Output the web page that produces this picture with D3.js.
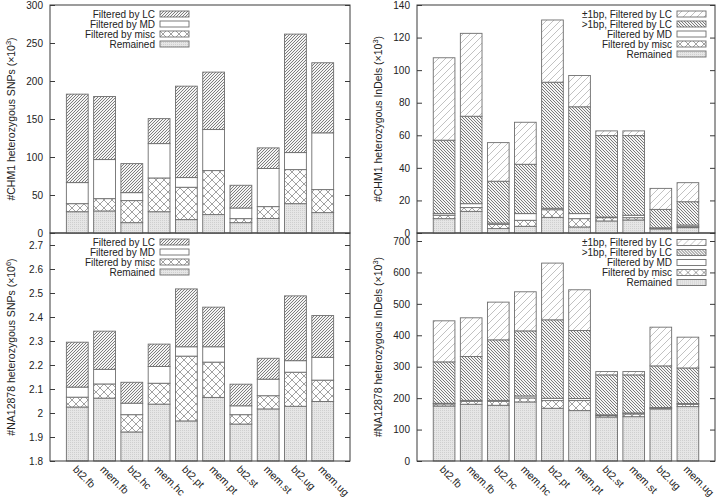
<!DOCTYPE html>
<html>
<head>
<meta charset="utf-8">
<script src="https://cdn.jsdelivr.net/npm/d3@7"></script>
<style>
  body { margin: 0; background: #fff; }
  svg { display: block; font-family: "Liberation Sans", Arial, sans-serif; }
</style>
</head>
<body>
<svg id="chart" width="720" height="498"></svg>
<script>

const categories = ['bt2.fb', 'mem.fb', 'bt2.hc', 'mem.hc', 'bt2.pt',
                    'mem.pt', 'bt2.st', 'mem.st', 'bt2.ug', 'mem.ug'];

// CHM1 heterozygous SNPs (x10^3)
const chm1SnpRemained = [28, 29, 13.6, 28, 17.6, 24.2, 13.6, 19, 38.6, 26.8];
const chm1SnpMisc = [10.6, 16.2, 29, 44.4, 42.6, 57.9, 5.3, 15.7, 44.8, 30.3];
const chm1SnpMD = [27.7, 51.4, 10.5, 45.2, 12.7, 54, 14, 50.1, 22.4, 74.7];
const chm1SnpLC = [116.4, 83, 38.2, 32.9, 120.3, 75.6, 29.9, 27.2, 155.9, 92.2];

// CHM1 heterozygous InDels (x10^3)
const chm1IndelRemained = [8.8, 13.3, 2.7, 4.1, 9.6, 3.7, 7.4, 8, 2.5, 3.3];
const chm1IndelMisc = [2.1, 2.3, 2.6, 3.7, 4.7, 5.1, 2, 1.4, 0.3, 0.6];
const chm1IndelMD = [1, 2.4, 0.8, 4.1, 0.9, 3.1, 0.4, 1.5, 0.4, 1];
const chm1IndelGt1 = [45.1, 53.7, 25.7, 30.3, 77.4, 65.6, 50, 48.9, 11.3, 14.3];
const chm1IndelPm1 = [50.6, 50.9, 23.7, 25.8, 38.2, 19.2, 2.9, 2.9, 12.9, 11.7];

// NA12878 heterozygous SNPs (x10^6)
const naSnpRemained = [2.025, 2.062, 1.921, 2.037, 1.967, 2.065, 1.954, 2.017, 2.028, 2.048];
const naSnpMisc = [0.041, 0.059, 0.072, 0.087, 0.270, 0.147, 0.039, 0.055, 0.142, 0.089];
const naSnpMD = [0.042, 0.061, 0.048, 0.070, 0.039, 0.064, 0.037, 0.069, 0.048, 0.095];
const naSnpLC = [0.187, 0.159, 0.087, 0.093, 0.241, 0.165, 0.090, 0.087, 0.270, 0.174];

// NA12878 heterozygous InDels (x10^3)
const naIndelRemained = [175, 180.5, 177.3, 188, 167.8, 160.3, 140, 141, 165.7, 173];
const naIndelMisc = [6.6, 9.5, 12.7, 12.7, 24.4, 31.9, 4.4, 8.7, 2.1, 7.5];
const naIndelMD = [2.1, 3, 3, 6.3, 7.4, 6.4, 2.5, 3.3, 2.2, 2.1];
const naIndelGt1 = [131.7, 139.4, 192.5, 207, 249.6, 216.6, 127.1, 121, 132.6, 113.4];
const naIndelPm1 = [130.6, 123.2, 120, 124.4, 180.5, 129.6, 10.5, 10.5, 123.2, 98];

const keyLabels = {
  remained: 'Remained',
  misc: 'Filtered by misc',
  md: 'Filtered by MD',
  lc: 'Filtered by LC',
  gt1: '>1bp, Filtered by LC',
  pm1: '\u00b11bp, Filtered by LC'
};

const textColor = '#222';
const frameColor = '#3a3a3a';
const barStroke = '#6e6e6e';


function makeTable(keys, arrays) {
  return categories.map((c, i) => {
    const row = {category: c};
    keys.forEach((k, j) => { row[k] = arrays[j][i]; });
    return row;
  });
}


const panels = [
  {
    left: 50, right: 350, top: 5, bottom: 233,
    domain: [0, 300], rangeTop: 5, step: 50,
    keys: ['remained', 'misc', 'md', 'lc'],
    table: makeTable(['remained', 'misc', 'md', 'lc'],
      [chm1SnpRemained, chm1SnpMisc, chm1SnpMD, chm1SnpLC]),
    title: ['#CHM1 heterozygous SNPs (\u00d710', '3', ')'],
    legendX: 155, legendY: 14, xLabels: false
  },
  {
    left: 417, right: 715, top: 5, bottom: 233,
    domain: [0, 140], rangeTop: 5, step: 20,
    keys: ['remained', 'misc', 'md', 'gt1', 'pm1'],
    table: makeTable(['remained', 'misc', 'md', 'gt1', 'pm1'],
      [chm1IndelRemained, chm1IndelMisc, chm1IndelMD, chm1IndelGt1, chm1IndelPm1]),
    title: ['#CHM1 heterozygous InDels (\u00d710', '3', ')'],
    legendX: 672, legendY: 14, xLabels: false
  },
  {
    left: 50, right: 350, top: 233, bottom: 461,
    domain: [1.8, 2.7], rangeTop: 245, step: 0.1,
    keys: ['remained', 'misc', 'md', 'lc'],
    table: makeTable(['remained', 'misc', 'md', 'lc'],
      [naSnpRemained, naSnpMisc, naSnpMD, naSnpLC]),
    title: ['#NA12878 heterozygous SNPs (\u00d710', '6', ')'],
    legendX: 155, legendY: 242, xLabels: true
  },
  {
    left: 417, right: 715, top: 233, bottom: 461,
    domain: [0, 700], rangeTop: 241, step: 100,
    keys: ['remained', 'misc', 'md', 'gt1', 'pm1'],
    table: makeTable(['remained', 'misc', 'md', 'gt1', 'pm1'],
      [naIndelRemained, naIndelMisc, naIndelMD, naIndelGt1, naIndelPm1]),
    title: ['#NA12878 heterozygous InDels (\u00d710', '3', ')'],
    legendX: 672, legendY: 242.5, xLabels: true
  }
];


function hatch(defs, id, size, dir, color, width, base) {
  const p = defs.append('pattern')
      .attr('id', id)
      .attr('patternUnits', 'userSpaceOnUse')
      .attr('width', size)
      .attr('height', size);
  p.append('rect')
      .attr('width', size)
      .attr('height', size)
      .attr('fill', base);
  const s = size;
  const fwd = `M-1,1l2,-2M0,${s}l${s},${-s}M${s - 1},${s + 1}l2,-2`;
  const back = `M-1,${s - 1}l2,2M0,0l${s},${s}M${s - 1},-1l2,2`;
  const d = dir === 'fwd' ? fwd : dir === 'back' ? back : fwd + back;
  p.append('path')
      .attr('d', d)
      .attr('stroke', color)
      .attr('stroke-width', width)
      .attr('fill', 'none');
}


function addPatterns(defs) {
  const rem = defs.append('pattern')
      .attr('id', 'pat-remained')
      .attr('patternUnits', 'userSpaceOnUse')
      .attr('width', 2)
      .attr('height', 2);
  rem.append('rect').attr('width', 2).attr('height', 2).attr('fill', '#e6e6e6');
  rem.append('rect').attr('width', 1).attr('height', 1).attr('fill', '#cfcfcf');

  hatch(defs, 'pat-misc', 8, 'cross', '#8a8a8a', 0.8, '#fff');
  hatch(defs, 'pat-lc', 3, 'fwd', '#5e5e5e', 0.8, '#f4f4f4');
  hatch(defs, 'pat-gt1', 3, 'back', '#5a5a5a', 0.8, '#f4f4f4');
  hatch(defs, 'pat-pm1', 7, 'fwd', '#a8a8a8', 0.7, '#fff');
}

const fills = {
  remained: 'url(#pat-remained)',
  misc: 'url(#pat-misc)',
  md: '#fff',
  lc: 'url(#pat-lc)',
  gt1: 'url(#pat-gt1)',
  pm1: 'url(#pat-pm1)'
};


function drawPanel(selection, p) {
  const x = d3.scaleBand()
      .domain(categories)
      .range([p.left, p.right])
      .paddingInner(0.2)
      .paddingOuter(0.6);
  const y = d3.scaleLinear()
      .domain(p.domain)
      .range([p.bottom, p.rangeTop])
      .clamp(true);

  const stacked = d3.stack().keys(p.keys)(p.table);

  // Bars
  const layers = selection.append('g')
      .attr('class', 'bars')
    .selectAll('g')
    .data(stacked)
    .enter().append('g')
      .attr('fill', d => fills[d.key]);
  layers.selectAll('rect')
    .data(d => d)
    .enter().append('rect')
      .attr('x', d => x(d.data.category))
      .attr('width', x.bandwidth())
      .attr('y', d => y(d[1]))
      .attr('height', d => Math.max(0, y(d[0]) - y(d[1])))
      .attr('stroke', barStroke)
      .attr('stroke-width', 0.9);

  // Axes (inward ticks, mirrored on the right)
  const ticks = d3.range(p.domain[0], p.domain[1] + p.step / 2, p.step);
  const fmt = v => String(+v.toFixed(2));
  const leftAxis = selection.append('g')
      .attr('transform', `translate(${p.left},0)`)
      .call(d3.axisLeft(y).tickValues(ticks).tickFormat(fmt)
        .tickSizeInner(-5).tickSizeOuter(0).tickPadding(7));
  const rightAxis = selection.append('g')
      .attr('transform', `translate(${p.right},0)`)
      .call(d3.axisRight(y).tickValues(ticks).tickFormat('')
        .tickSizeInner(-5).tickSizeOuter(0));
  [leftAxis, rightAxis].forEach(a => {
    a.select('.domain').remove();
    a.selectAll('line').attr('stroke', frameColor);
  });
  leftAxis.selectAll('text')
      .attr('fill', textColor)
      .attr('font-size', 10)
      .attr('font-family', '"Liberation Sans", Arial, sans-serif');

  // Frame
  selection.append('rect')
      .attr('x', p.left)
      .attr('y', p.top)
      .attr('width', p.right - p.left)
      .attr('height', p.bottom - p.top)
      .attr('fill', 'none')
      .attr('stroke', frameColor)
      .attr('stroke-width', 1);

  // Y title
  const cy = (p.top + p.bottom) / 2;
  const title = selection.append('text')
      .attr('transform', `translate(${p.left - 35},${cy}) rotate(-90)`)
      .attr('text-anchor', 'middle')
      .attr('font-size', 10.5)
      .attr('fill', textColor);
  title.append('tspan').text(p.title[0]);
  title.append('tspan').attr('dy', -4).attr('font-size', 7.5).text(p.title[1]);
  title.append('tspan').attr('dy', 4).text(p.title[2]);

  // X labels
  if (p.xLabels) {
    selection.append('g')
        .attr('class', 'x-labels')
      .selectAll('text')
      .data(categories)
      .enter().append('text')
        .attr('transform', d => `translate(${x(d) + x.bandwidth() / 2 - 5},${p.bottom + 9}) rotate(45)`)
        .attr('font-size', 10.5)
        .attr('fill', textColor)
        .text(d => d);
  }

  // Legend
  const entries = p.keys.slice().reverse();
  const legend = selection.append('g')
      .attr('class', 'legend')
    .selectAll('g')
    .data(entries)
    .enter().append('g')
      .attr('transform', (d, i) => `translate(${p.legendX},${p.legendY + i * 10})`);
  legend.append('text')
      .attr('x', 0)
      .attr('dy', '0.35em')
      .attr('text-anchor', 'end')
      .attr('font-size', 10)
      .attr('fill', textColor)
      .text(d => keyLabels[d]);
  legend.append('rect')
      .attr('x', 5)
      .attr('y', -3)
      .attr('width', 29)
      .attr('height', 6)
      .attr('fill', d => fills[d])
      .attr('stroke', barStroke)
      .attr('stroke-width', 0.9);
}


const svg = d3.select('#chart');
svg.append('rect')
    .attr('width', 720)
    .attr('height', 498)
    .attr('fill', '#fff');
addPatterns(svg.append('defs'));

// bottom panels first so the upper frames sit on the shared border
[2, 3, 0, 1].forEach(i => {
  svg.append('g')
      .attr('class', 'panel')
      .call(drawPanel, panels[i]);
});

</script>
</body>
</html>
